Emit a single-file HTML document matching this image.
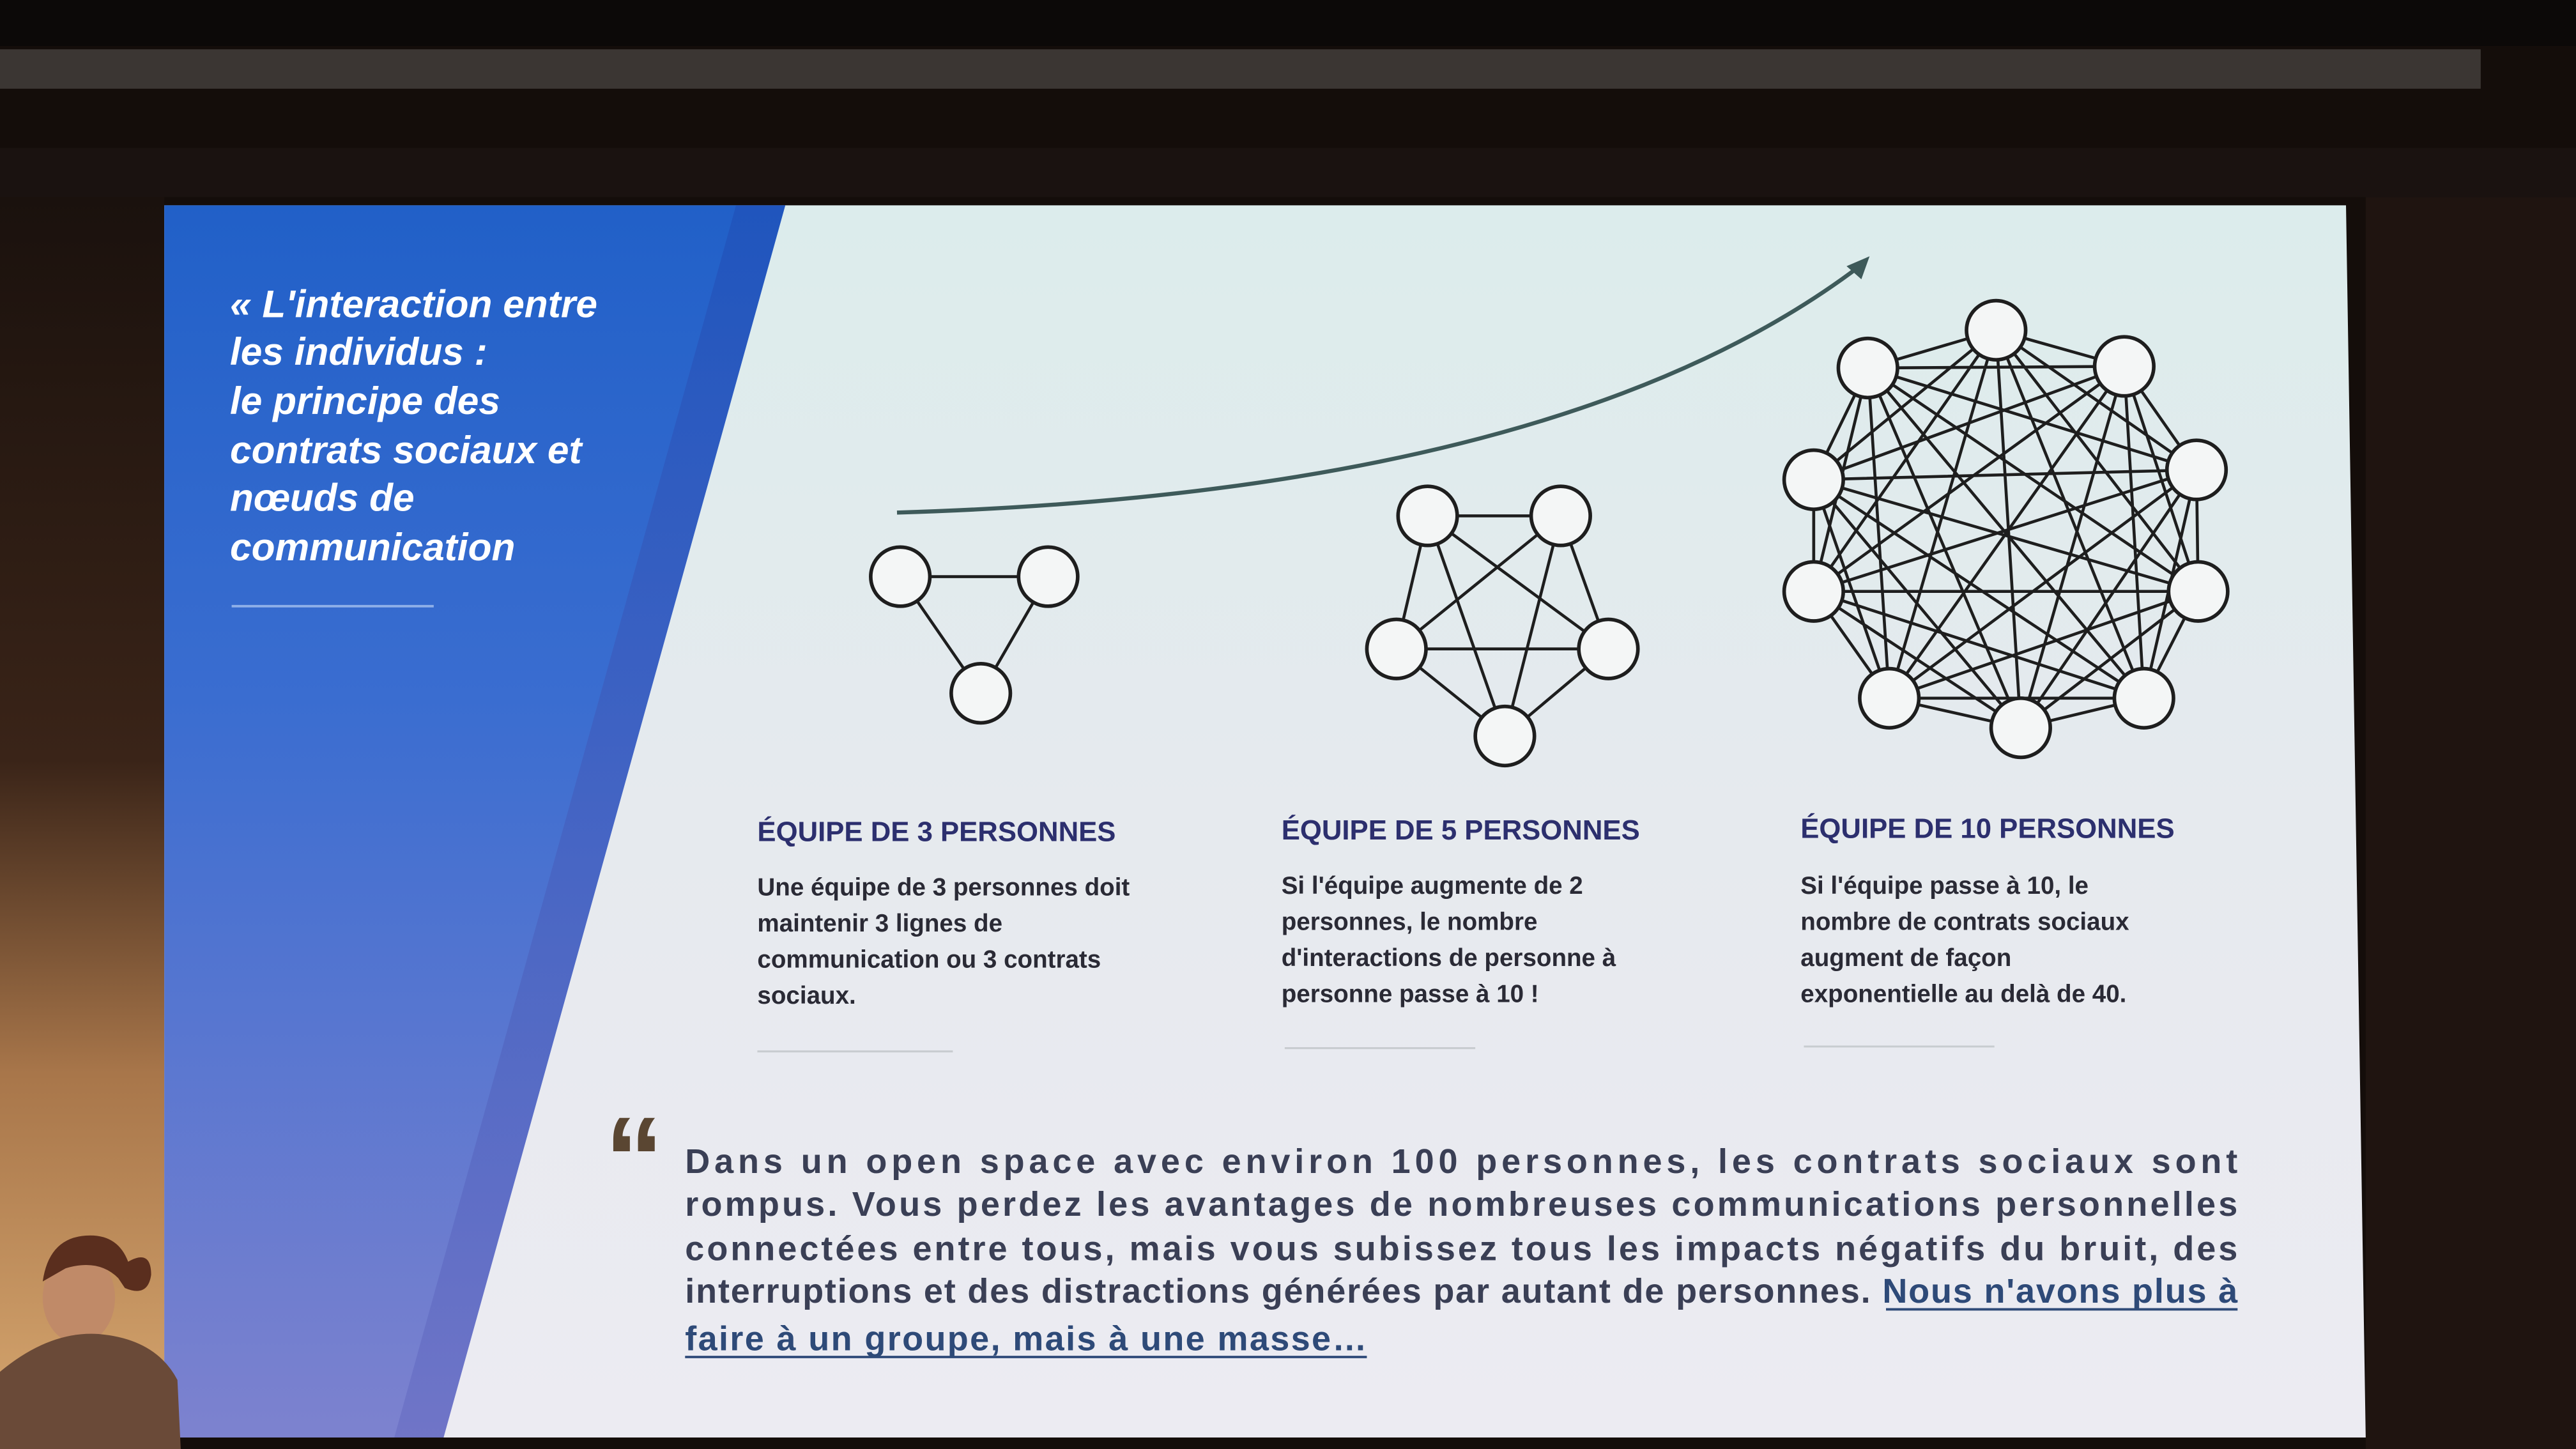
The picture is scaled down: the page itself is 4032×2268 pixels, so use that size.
<!DOCTYPE html>
<html><head><meta charset="utf-8"><style>
html,body{margin:0;padding:0;background:#120c0a;}
svg{display:block;}
text{font-family:"Liberation Sans",sans-serif;}
</style></head><body>
<svg width="4032" height="2268" viewBox="0 0 1568 882" xmlns="http://www.w3.org/2000/svg">
<defs>
<linearGradient id="bgl" x1="0" y1="0" x2="0" y2="1">
<stop offset="0" stop-color="#1a110d"/><stop offset="0.45" stop-color="#3a2418"/><stop offset="0.7" stop-color="#a8764a"/><stop offset="1" stop-color="#d8a870"/>
</linearGradient>
<linearGradient id="blue" x1="0" y1="0" x2="0" y2="1">
<stop offset="0" stop-color="#2160c8"/><stop offset="0.4" stop-color="#3a6dd0"/><stop offset="1" stop-color="#7d82cf"/>
</linearGradient>
<linearGradient id="band" x1="0" y1="0" x2="0" y2="1">
<stop offset="0" stop-color="#1f50b8"/><stop offset="1" stop-color="#6a6fc4"/>
</linearGradient>
<linearGradient id="light" x1="0" y1="0" x2="0" y2="1">
<stop offset="0" stop-color="#dcecec"/><stop offset="0.5" stop-color="#e6eaee"/><stop offset="1" stop-color="#ecebf2"/>
</linearGradient>
</defs>
<rect width="1568" height="882" fill="#140d0a"/>
<rect x="0" y="120" width="100" height="762" fill="url(#bgl)"/>
<rect x="0" y="0" width="1568" height="28" fill="#0c0908"/>
<rect x="0" y="30" width="1510" height="24" fill="#3b3633"/>
<rect x="0" y="90" width="1568" height="30" fill="#1a1210"/>
<rect x="1440" y="120" width="128" height="762" fill="#1f1410"/>
<polygon points="100,125 1428,125 1440,875 100,875" fill="url(#light)"/>
<polygon points="100,125 478,125 270,875 100,875" fill="url(#blue)"/>
<polygon points="448,125 478,125 270,875 240,875" fill="url(#band)" opacity="0.7"/>
<g fill="#ffffff" font-size="23.5" font-weight="bold" font-style="italic">
<text x="140" y="193">« L'interaction entre</text>
<text x="140" y="222">les individus :</text>
<text x="140" y="252">le principe des</text>
<text x="140" y="282">contrats sociaux et</text>
<text x="140" y="311">nœuds de</text>
<text x="140" y="341">communication</text>
</g>
<line x1="141" y1="369" x2="264" y2="369" stroke="#8fb0e8" stroke-width="1.5"/>
<path d="M546 312 Q950 300 1132 162" fill="none" stroke="#3e5a5a" stroke-width="2.5"/>
<polygon points="1138,156 1124,162 1133,170" fill="#3e5a5a"/>
<g stroke="#1e1e1e" stroke-width="1.8" fill="none">
<path d="M548 351L638 351M548 351L597 422M638 351L597 422"/>
<path d="M869 314L950 314M869 314L850 395M869 314L979 395M869 314L916 448M950 314L850 395M950 314L979 395M950 314L916 448M850 395L979 395M850 395L916 448M979 395L916 448"/>
<path d="M1215 201L1293 223M1215 201L1337 286M1215 201L1338 360M1215 201L1305 425M1215 201L1230 443M1215 201L1150 425M1215 201L1104 360M1215 201L1104 292M1215 201L1137 224M1293 223L1337 286M1293 223L1338 360M1293 223L1305 425M1293 223L1230 443M1293 223L1150 425M1293 223L1104 360M1293 223L1104 292M1293 223L1137 224M1337 286L1338 360M1337 286L1305 425M1337 286L1230 443M1337 286L1150 425M1337 286L1104 360M1337 286L1104 292M1337 286L1137 224M1338 360L1305 425M1338 360L1230 443M1338 360L1150 425M1338 360L1104 360M1338 360L1104 292M1338 360L1137 224M1305 425L1230 443M1305 425L1150 425M1305 425L1104 360M1305 425L1104 292M1305 425L1137 224M1230 443L1150 425M1230 443L1104 360M1230 443L1104 292M1230 443L1137 224M1150 425L1104 360M1150 425L1104 292M1150 425L1137 224M1104 360L1104 292M1104 360L1137 224M1104 292L1137 224"/>
</g>
<g fill="#f4f6f6" stroke="#1e1e1e" stroke-width="2.2">
<circle cx="548" cy="351" r="18"/><circle cx="638" cy="351" r="18"/><circle cx="597" cy="422" r="18"/>
<circle cx="869" cy="314" r="18"/><circle cx="950" cy="314" r="18"/><circle cx="850" cy="395" r="18"/><circle cx="979" cy="395" r="18"/><circle cx="916" cy="448" r="18"/>
<circle cx="1215" cy="201" r="18"/><circle cx="1293" cy="223" r="18"/><circle cx="1337" cy="286" r="18"/><circle cx="1338" cy="360" r="18"/><circle cx="1305" cy="425" r="18"/><circle cx="1230" cy="443" r="18"/><circle cx="1150" cy="425" r="18"/><circle cx="1104" cy="360" r="18"/><circle cx="1104" cy="292" r="18"/><circle cx="1137" cy="224" r="18"/>
</g>
<g fill="#2c2f6e" font-size="17" font-weight="bold">
<text x="461" y="512">ÉQUIPE DE 3 PERSONNES</text>
<text x="780" y="511">ÉQUIPE DE 5 PERSONNES</text>
<text x="1096" y="510">ÉQUIPE DE 10 PERSONNES</text>
</g>
<g fill="#2a2a35" font-size="15" font-weight="bold">
<text x="461" y="545">Une équipe de 3 personnes doit</text>
<text x="461" y="567">maintenir 3 lignes de</text>
<text x="461" y="589">communication ou 3 contrats</text>
<text x="461" y="611">sociaux.</text>
<text x="780" y="544">Si l'équipe augmente de 2</text>
<text x="780" y="566">personnes, le nombre</text>
<text x="780" y="588">d'interactions de personne à</text>
<text x="780" y="610">personne passe à 10 !</text>
<text x="1096" y="544">Si l'équipe passe à 10, le</text>
<text x="1096" y="566">nombre de contrats sociaux</text>
<text x="1096" y="588">augment de façon</text>
<text x="1096" y="610">exponentielle au delà de 40.</text>
</g>
<g stroke="#c8ccd0" stroke-width="1.2">
<line x1="461" y1="640" x2="580" y2="640"/><line x1="782" y1="638" x2="898" y2="638"/><line x1="1098" y1="637" x2="1214" y2="637"/>
</g>
<text x="368" y="730" font-family="Liberation Serif,serif" font-size="72" font-weight="bold" fill="#5a4632">“</text>
<g fill="#3a3f55" font-size="21" font-weight="bold">
<text x="417" y="714" textLength="945" lengthAdjust="spacing">Dans un open space avec environ 100 personnes, les contrats sociaux sont</text>
<text x="417" y="740" textLength="945" lengthAdjust="spacing">rompus. Vous perdez les avantages de nombreuses communications personnelles</text>
<text x="417" y="767" textLength="945" lengthAdjust="spacing">connectées entre tous, mais vous subissez tous les impacts négatifs du bruit, des</text>
<text x="417" y="793" textLength="945" lengthAdjust="spacing">interruptions et des distractions générées par autant de personnes. <tspan fill="#2e4a78">Nous n'avons plus à</tspan></text>
<text x="417" y="822" fill="#2e4a78" textLength="415" lengthAdjust="spacing">faire à un groupe, mais à une masse…</text>
</g>
<line x1="1148" y1="797" x2="1362" y2="797" stroke="#2e4a78" stroke-width="1.5"/>
<line x1="417" y1="826" x2="832" y2="826" stroke="#2e4a78" stroke-width="1.5"/>
<ellipse cx="48" cy="790" rx="22" ry="28" fill="#c08a68"/>
<path d="M26 780 Q30 752 55 752 Q72 752 78 768 Q92 760 92 776 Q90 790 76 784 L72 778 Q60 766 40 772 Z" fill="#5a2e1e"/>
<path d="M0 835 Q30 810 60 812 Q95 815 108 840 L110 882 L0 882 Z" fill="#6a4a38"/>
</svg>
</body></html>
